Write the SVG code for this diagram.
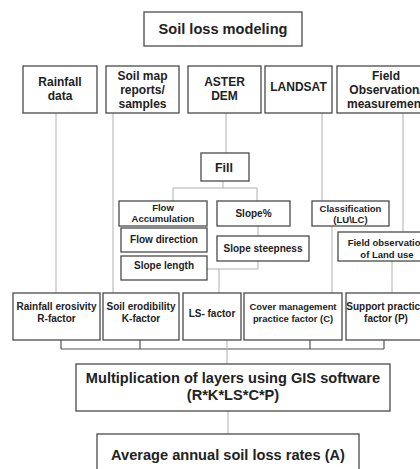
<svg xmlns="http://www.w3.org/2000/svg" width="420" height="469" viewBox="0 0 420 469">
<style>
.box{fill:#fff;stroke:#4a4a4a;stroke-width:1.3}
text{font-family:"Liberation Sans",Arial,sans-serif;font-weight:bold;fill:#222;text-anchor:middle}
.t15{font-size:14.6px}
.t12{font-size:12px}
.t10{font-size:10px}
.t9{font-size:9.5px}
.c{fill:none;stroke:#b0b0b0;stroke-width:1}
.d{fill:none;stroke:#555;stroke-width:1.2}
</style>
<rect width="420" height="469" fill="#fff"/>
<g id="connectors">
<path class="c" d="M56 113V293M113 113V293M226 113V153M322 113V201M403 113V232"/>
<path class="c" d="M223 181V188M173 188H257M173 188V201M257 188V201"/>
<path class="c" d="M258 226V236M258 261V269H207M219 269V293"/>
<path class="c" d="M332 226V293M392 261V293"/>
<path class="d" d="M61 340V349M140 340V349M310 340V349M384 340V349M61 349H384"/>
<path class="c" d="M227 340V364M228 411V434"/>
</g>
<g id="title"><rect class="box" x="144" y="12" width="158" height="34"/><text class="t15" x="223" y="34">Soil loss modeling</text></g>
<g id="rainfall"><rect class="box" x="23" y="66" width="74" height="47"/><text class="t12" x="60" y="86">Rainfall</text><text class="t12" x="60" y="100">data</text></g>
<g id="soilmap"><rect class="box" x="106" y="66" width="73" height="47"/><text class="t12" x="142.5" y="80">Soil map</text><text class="t12" x="142.5" y="94">reports/</text><text class="t12" x="142.5" y="107.5">samples</text></g>
<g id="aster"><rect class="box" x="188" y="66" width="73" height="47"/><text class="t12" x="224.5" y="86">ASTER</text><text class="t12" x="224.5" y="100">DEM</text></g>
<g id="landsat"><rect class="box" x="265" y="66" width="67" height="47"/><text class="t12" x="298.5" y="91">LANDSAT</text></g>
<g id="fieldobs"><rect class="box" x="337" y="66" width="100" height="47"/><text class="t12" x="386" y="80">Field</text><text class="t12" x="386" y="94">Observation/</text><text class="t12" x="386" y="107.5">measurement</text></g>
<g id="fill"><rect class="box" x="201" y="153" width="48" height="28"/><text x="224" y="171.5" style="font-size:12.5px">Fill</text></g>
<g id="flowacc"><rect class="box" x="119" y="201" width="88" height="25"/><text class="t9" x="163" y="210.5">Flow</text><text class="t9" x="163" y="221.5">Accumulation</text></g>
<g id="flowdir"><rect class="box" x="121" y="228" width="86" height="24"/><text class="t10" x="164" y="243">Flow direction</text></g>
<g id="slopelen"><rect class="box" x="121" y="256" width="86" height="24"/><text class="t10" x="164" y="269">Slope length</text></g>
<g id="slopepct"><rect class="box" x="217" y="201" width="73" height="25"/><text class="t10" x="253.5" y="217">Slope%</text></g>
<g id="slopesteep"><rect class="box" x="217" y="236" width="92" height="25"/><text class="t10" x="263" y="251.5">Slope steepness</text></g>
<g id="classif"><rect class="box" x="312" y="201" width="77" height="25"/><text class="t9" x="350.5" y="211.5">Classification</text><text class="t9" x="350.5" y="222.5">(LU\LC)</text></g>
<g id="fieldlu"><rect class="box" x="338" y="232" width="98" height="29"/><text class="t9" x="387" y="246">Field observation</text><text class="t9" x="387" y="257.5">of Land use</text></g>
<g id="rfactor"><rect class="box" x="13" y="293" width="87" height="47"/><text class="t10" x="56.5" y="310">Rainfall erosivity</text><text class="t10" x="56.5" y="322">R-factor</text></g>
<g id="kfactor"><rect class="box" x="103" y="293" width="76" height="47"/><text class="t10" x="141" y="310">Soil erodibility</text><text class="t10" x="141" y="322">K-factor</text></g>
<g id="lsfactor"><rect class="box" x="183" y="293" width="58" height="47"/><text class="t10" x="212" y="317">LS- factor</text></g>
<g id="cfactor"><rect class="box" x="244" y="293" width="98" height="47"/><text x="293" y="310" style="font-size:9.4px">Cover management</text><text x="293" y="322" style="font-size:9.4px">practice factor (C)</text></g>
<g id="pfactor"><rect class="box" x="346" y="293" width="80" height="47"/><text class="t10" x="386" y="310">Support practice</text><text class="t10" x="386" y="322">factor (P)</text></g>
<g id="multiply"><rect class="box" x="76" y="364" width="314" height="47"/><text class="t15" x="233" y="382.5">Multiplication of layers using GIS software</text><text class="t15" x="233" y="399.5">(R*K*LS*C*P)</text></g>
<g id="average"><rect class="box" x="97" y="434" width="262" height="40"/><text class="t15" x="228" y="459.5">Average annual soil loss rates (A)</text></g>
</svg>
